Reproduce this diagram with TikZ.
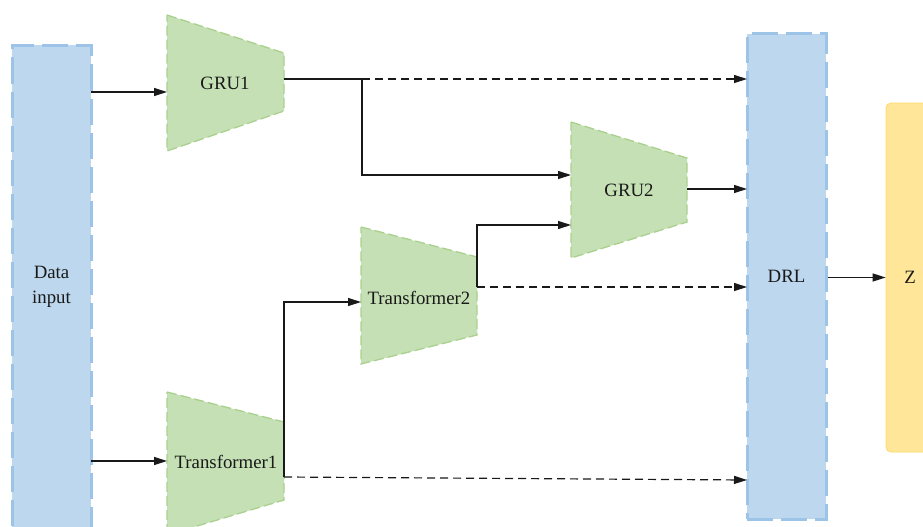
\documentclass[tikz,border=0pt]{standalone}
\usepackage{fontspec}
\setmainfont{Liberation Serif}
\usetikzlibrary{arrows.meta}
\definecolor{bfill}{HTML}{BDD7EE}
\definecolor{bline}{HTML}{9DC3E6}
\definecolor{gfill}{HTML}{C5E0B4}
\definecolor{gline}{HTML}{A9D18E}
\definecolor{yfill}{HTML}{FFE699}
\definecolor{yline}{HTML}{FFD966}
\begin{document}
\begin{tikzpicture}[x=1pt,y=-1pt,
  bluebox/.style={fill=bfill, draw=bline, line width=3pt, dash pattern=on 26pt off 8pt, inner sep=0pt},
  greenshape/.style={fill=gfill, draw=gline, line width=1.3pt, dash pattern=on 10pt off 4pt},
  ybox/.style={fill=yfill, draw=yline, line width=0.8pt, rounded corners=5pt, inner sep=0pt},
  lbl/.style={font=\fontsize{18.8}{25}\selectfont, text=black!90, align=center},
  conn/.style={draw=black!90, line width=1.2pt, -{Triangle[length=13pt,width=8pt]}},
  dconn/.style={conn, dash pattern=on 8pt off 5pt},
  seg/.style={draw=black!90, line width=1.2pt}]
\useasboundingbox (0,0) rectangle (923,527);
\fill[white] (0,0) rectangle (923,527);

% side blocks
\node[bluebox, minimum width=79pt, minimum height=510pt, anchor=north,
      label={[lbl, yshift=14pt]center:Data\\input}] (data) at (51.5,44) {};
\node[bluebox, lbl, minimum width=79pt, minimum height=485pt] (drl) at (786.5,276.5) {DRL};
\node[ybox, lbl, minimum width=48pt, minimum height=349pt] (z) at (910,277.5) {Z};

% trapezoids
\path[greenshape] (167,15) -- (284,53) -- (284,111) -- (167,151) -- cycle;
\node[lbl] (gru1) at (225,83) {GRU1};
\path[greenshape] (571,122) -- (687,158) -- (687,222) -- (571,258) -- cycle;
\node[lbl] (gru2) at (629,190) {GRU2};
\path[greenshape] (361,227) -- (477,257) -- (477,335) -- (361,364) -- cycle;
\node[lbl] (tr2) at (419,298) {Transformer2};
\path[greenshape] (167,392) -- (284,422) -- (284,500) -- (167,535) -- cycle;
\node[lbl] (tr1) at (226,462) {Transformer1};

% connection points
\coordinate (d1) at (91,92);   \coordinate (g1in) at (167,92);
\coordinate (d2) at (91,461);  \coordinate (t1in) at (167,461);
\coordinate (g1out) at (284,79); \coordinate (g1j) at (362,79);
\coordinate (g1d) at (747,79);
\coordinate (g2ina) at (571,175);
\coordinate (g2inb) at (571,225);
\coordinate (g2out) at (687,189); \coordinate (g2d) at (747,189);
\coordinate (t2out) at (477,287); \coordinate (t2up) at (477,225);
\coordinate (t2d) at (747,287);
\coordinate (t2in) at (361,302);
\coordinate (t1out) at (284,477); \coordinate (t1up) at (284,302);
\coordinate (t1d) at (747,480);

% connectors
\draw[conn] (d1) -- (g1in);
\draw[conn] (d2) -- (t1in);
\draw[seg] (g1out) -- (g1j);
\draw[dconn] (g1j) -- (g1d);
\draw[conn] (g1j) |- (g2ina);
\draw[conn] (g2out) -- (g2d);
\draw[conn] (t2out) -- (t2up) -- (g2inb);
\draw[dconn] (t2out) -- (t2d);
\draw[conn] (t1out) -- (t1up) -- (t2in);
\draw[dconn] (t1out) -- (t1d);
\draw[conn] (drl.east |- z.west) -- (z.west);
\end{tikzpicture}
\end{document}
